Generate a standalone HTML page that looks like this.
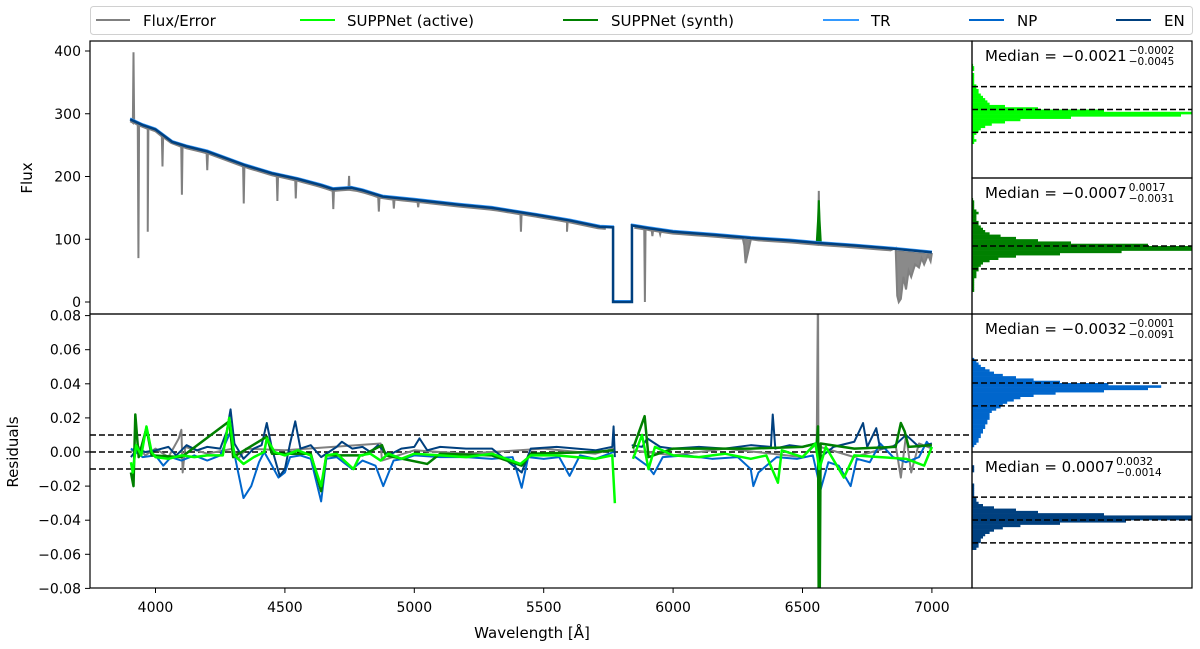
<!DOCTYPE html>
<html><head><meta charset="utf-8"><style>
html,body{margin:0;padding:0;background:#fff;}
svg{display:block;font-family:"DejaVu Sans","Liberation Sans",sans-serif;}
</style></head><body>
<svg id="chart" width="1200" height="649" viewBox="0 0 1200 649" xmlns="http://www.w3.org/2000/svg">
<defs>
<clipPath id="clipTop"><rect x="90" y="41" width="882" height="273"/></clipPath>
<clipPath id="clipBot"><rect x="90" y="314" width="882" height="274"/></clipPath>
<clipPath id="clipH1"><rect x="972" y="41" width="220" height="137"/></clipPath>
<clipPath id="clipH2"><rect x="972" y="178" width="220" height="136"/></clipPath>
<clipPath id="clipH3"><rect x="972" y="314" width="220" height="138"/></clipPath>
<clipPath id="clipH4"><rect x="972" y="452" width="220" height="136"/></clipPath>
</defs>
<g id="legend">
<rect x="90.5" y="6.5" width="1102" height="28" rx="3" fill="#fff" stroke="#d0d0d0" stroke-width="1"/>
<g><line x1="96" y1="20" x2="130" y2="20" stroke="#808080" stroke-width="2"/><text x="143" y="26" font-size="15">Flux/Error</text></g>
<g><line x1="300" y1="20" x2="335" y2="20" stroke="#00ff00" stroke-width="2"/><text x="347" y="26" font-size="15">SUPPNet (active)</text></g>
<g><line x1="563" y1="20" x2="598" y2="20" stroke="#008000" stroke-width="2"/><text x="611" y="26" font-size="15">SUPPNet (synth)</text></g>
<g><line x1="823" y1="20" x2="859" y2="20" stroke="#3399ff" stroke-width="2"/><text x="871" y="26" font-size="15">TR</text></g>
<g><line x1="969" y1="20" x2="1004" y2="20" stroke="#0066cc" stroke-width="2"/><text x="1017" y="26" font-size="15">NP</text></g>
<g><line x1="1116" y1="20" x2="1151" y2="20" stroke="#00407f" stroke-width="2"/><text x="1164" y="26" font-size="15">EN</text></g>
</g>
<g id="topPanel"></g>
<g id="botPanel"></g>
<g id="histPanel"></g>
<g id="frameLayer"></g>
<text x="32" y="178" font-size="15" text-anchor="middle" transform="rotate(-90 32 178)">Flux</text>
<text x="18" y="452" font-size="15" text-anchor="middle" transform="rotate(-90 18 452)">Residuals</text>
<text x="532" y="638" font-size="15" text-anchor="middle">Wavelength [Å]</text>
</svg>
<script>
// ---- data ----
const xTicks = [4000, 4500, 5000, 5500, 6000, 6500, 7000];
const fluxTicks = [0, 100, 200, 300, 400];
const resTicks = [0.08, 0.06, 0.04, 0.02, 0.00, -0.02, -0.04, -0.06, -0.08];
const resTickLabels = ["0.08","0.06","0.04","0.02","0.00","\u22120.02","\u22120.04","\u22120.06","\u22120.08"];
const enW = [3902,3950,4000,4065,4120,4200,4345,4450,4550,4641,4686,4720,4757,4800,4878,5000,5173,5300,5470,5600,5717,5768,5768,5841,5841,5900,6000,6161,6300,6450,6563,6700,6850,7000];
const enF = [291,282,275,255,248,240,218,205,196,186,180,181,182,178,168,163,155,150,139,130,120,119,0,0,122,118,112,107,102,98,94,90,85,79];
const lineW = [3915,3934,3970,4027,4102,4200,4341,4471,4542,4687,4748,4863,4921,5015,5412,5590,5891,5920,5950,6563];
const lineF = [398,70,112,216,171,210,157,161,165,148,201,144,149,151,112,112,0,105,108,177];
const tellW = [6268,6275,6280,6290,6300,6860,6866,6872,6880,6890,6900,6910,6920,6935,6950,6960,6970,6985,6995,7000];
const tellF = [101,90,62,80,100,86,10,0,5,40,20,50,40,60,55,70,60,75,65,78];
const synthSpikeW = [6555,6560,6563,6566,6571];
const synthSpikeF = [94,130,162,130,93];
// residuals (null = gap)
const rEnW = [3905,3930,3960,4000,4050,4080,4120,4160,4200,4250,4275,4290,4305,4340,4380,4410,4430,4450,4480,4500,4520,4540,4560,4600,4640,4700,4720,4760,4800,4830,4860,4900,4950,5000,5020,5050,5100,5200,5300,5415,5450,5550,5700,5765,5770,5775,null,5840,5880,5900,5950,6000,6100,6200,6300,6378,6385,6395,6450,6500,6550,6570,6620,6700,6734,6750,6785,6800,6850,6900,6950,7000];
const rEnR = [-0.003,0.002,0.000,0.001,0.003,-0.002,0.004,0.001,0.003,0.002,0.012,0.025,0.005,-0.004,0.002,0.004,0.017,0.002,-0.014,-0.010,0.005,0.018,0.002,0.004,-0.003,0.003,0.006,0.002,0.003,0.000,0.004,-0.002,0.002,0.003,0.008,0.001,0.003,0.002,0.002,-0.012,0.002,0.003,0.001,0.003,0.015,-0.003,null,0.004,0.003,0.008,0.003,0.002,0.003,0.002,0.004,0.003,0.022,0.002,0.004,0.003,0.005,-0.003,0.003,0.006,0.017,0.003,0.014,0.002,0.003,0.010,0.003,0.005];
const rNpW = [3905,3950,4000,4030,4060,4100,4150,4200,4250,4290,4310,4340,4370,4400,4420,4450,4475,4500,4520,4560,4600,4640,4660,4700,4760,4800,4850,4880,4920,4960,5000,5100,5200,5300,5380,5415,5440,5500,5560,5600,5640,5700,5770,null,5845,5900,5925,5960,6050,6150,6250,6300,6310,6330,6400,6480,6540,6570,6600,6640,6686,6710,6760,6800,6850,6900,6950,6980,7000];
const rNpR = [0.002,-0.003,-0.002,-0.008,-0.003,-0.005,-0.002,-0.005,-0.002,0.012,-0.005,-0.027,-0.020,-0.006,0.000,-0.008,-0.015,-0.012,-0.003,-0.002,-0.004,-0.029,-0.004,-0.003,-0.010,-0.005,-0.008,-0.020,-0.005,-0.004,-0.002,-0.003,-0.003,-0.004,-0.003,-0.021,-0.003,-0.004,-0.003,-0.014,-0.002,-0.004,0.000,null,-0.002,-0.008,-0.013,-0.003,-0.002,-0.004,-0.003,-0.010,-0.020,-0.012,-0.003,-0.004,-0.002,-0.022,-0.006,-0.008,-0.020,-0.004,-0.006,0.005,-0.003,-0.006,-0.003,0.006,0.002];
const rActW = [3905,3912,3925,3945,3965,3985,4000,4050,4100,4150,4200,4260,4285,4305,4340,4380,4420,4430,4460,4500,4550,4600,4640,4660,4700,4765,4790,4830,4870,4900,4950,5000,5100,5200,5300,5410,5450,5550,5700,5765,5775,null,5845,5880,5905,5930,6000,6100,6200,6300,6360,6405,6420,6500,6550,6565,6590,6660,6700,6800,6900,6970,7000];
const rActR = [-0.006,-0.012,0.004,-0.002,0.015,0.000,-0.003,-0.004,-0.002,-0.003,-0.002,-0.002,0.020,-0.002,-0.007,-0.003,0.000,0.008,0.000,-0.002,0.001,-0.002,-0.020,-0.002,-0.001,-0.010,-0.002,-0.001,-0.005,-0.001,-0.004,-0.001,-0.002,-0.003,-0.001,-0.007,-0.002,-0.002,-0.004,-0.002,-0.030,null,-0.004,0.010,-0.010,0.003,-0.002,-0.003,-0.001,-0.004,-0.002,-0.018,0.001,-0.003,0.005,-0.010,0.003,-0.015,-0.002,-0.003,-0.004,-0.008,0.003];
const rSynW = [3905,3915,3922,3935,3965,3985,4100,4285,4300,4430,4450,4600,4640,4660,4800,4875,4890,5050,5100,5300,5415,5450,5700,5770,null,5845,5890,5905,6000,6300,6500,6555,6560,6563,6566,6570,6700,6860,6880,6895,6910,7000];
const rSynR = [-0.012,-0.020,0.022,-0.003,0.014,-0.002,-0.003,0.018,-0.003,0.009,-0.001,-0.001,-0.023,-0.002,-0.002,0.004,-0.002,-0.007,-0.001,-0.002,-0.008,-0.001,0.000,0.001,null,0.002,0.021,-0.003,0.002,0.002,0.003,0.005,0.015,-0.100,-0.100,0.005,0.002,0.003,0.017,0.012,0.003,0.004];
const rGrayW = [3905,3930,3960,4000,4050,4090,4100,4105,4115,4200,4300,4320,4350,4500,4870,4875,5000,5200,5500,5700,5770,null,5845,6000,6200,6500,6555,6560,6563,6568,6700,6860,6880,6900,6920,6950,7000];
const rGrayR = [0.000,0.004,-0.002,0.002,-0.003,0.008,0.013,-0.012,0.003,-0.001,0.002,-0.004,0.002,0.001,0.005,-0.005,0.001,-0.001,0.002,-0.001,0.002,null,0.001,-0.002,0.002,-0.003,0.005,0.100,-0.100,0.003,-0.003,0.004,-0.015,0.010,-0.012,0.005,0.002];
// histograms: bin centres -0.0295..0.0295 step 0.001
const histBinStart = -0.03, histBinStep = 0.001;
const hist1 = [0,0,0,0,0,0,0,0,0,0,0,0,0,0,0,1,2,1,1,2,3,4,6,9,15,22,45,95,120,60,30,15,8,7,6,5,4,3,3,2,2,1,1,1,1,1,0,1,1,0.5,0,0,0,0,0,0,0,0,0,0];
const hist2 = [0,0,0,0,0,0,0,0,0,0,1,1,1,1,1,1,2,2,2,3,3,4,5,8,12,20,40,68,110,120,80,45,30,20,13,8,6,5,4,3,3,2,2,2,3,2,1,1,1,1,0.5,0,0,0,0,0,0,0,0,0];
const hist3 = [0,0,1,2,3,3,4,4,5,5,6,6,7,7,8,8,8,9,11,13,14,16,19,22,28,38,60,80,86,62,40,28,20,14,10,8,6,4,3,2,1,0,0,0,0,0,0,0,0,0,0,0,0,0,0,0,0,0,0,0];
const hist4 = [0,0,0,0,0,0,0,0,0,0,0,0,0,0,0,0,0,2,3,3,4,4,5,6,8,10,14,22,40,70,130,110,60,30,20,10,5,3,2,2,1,1,1,1,1,1,0,0,0,0,0,1,1,1,0,0,0,0,0,0];
const medianMain = ["\u22120.0021","\u22120.0007","\u22120.0032","0.0007"];
const medianUp = ["\u22120.0002","0.0017","\u22120.0001","0.0032"];
const medianLo = ["\u22120.0045","\u22120.0031","\u22120.0091","\u22120.0014"];

// ---- scales ----
const NS = "http://www.w3.org/2000/svg";
const xS = w => 155.5 + (w - 4000) * 0.2588;
const yF = f => 302 - f * 0.6275;
const yR = r => 452 - r * 1705;
function mk(tag, attrs, parent) { const e = document.createElementNS(NS, tag); for (const k in attrs) e.setAttribute(k, attrs[k]); parent.appendChild(e); return e; }
function pathFrom(W, V, xf, yf) { let d = "", pen = false; for (let i = 0; i < W.length; i++) { if (W[i] === null || V[i] === null) { pen = false; continue; } d += (pen ? "L" : "M") + xf(W[i]).toFixed(2) + "," + yf(V[i]).toFixed(2); pen = true; } return d; }
function interp(W, F, w) { for (let i = 0; i < W.length - 1; i++) if (w >= W[i] && w <= W[i+1]) { if (W[i+1] === W[i]) return F[i+1]; return F[i] + (F[i+1]-F[i])*(w-W[i])/(W[i+1]-W[i]); } return F[F.length-1]; }

const topPanel = document.getElementById('topPanel'), botPanel = document.getElementById('botPanel'), histPanel = document.getElementById('histPanel'), frameLayer = document.getElementById('frameLayer');
const gTop = mk('g', {'clip-path': 'url(#clipTop)'}, topPanel);
// filled telluric / broad absorption regions
[[0, 5], [5, tellW.length]].forEach((rg, j) => {
  const ws = tellW.slice(rg[0], rg[1]), fs = tellF.slice(rg[0], rg[1]);
  let d = pathFrom(ws, fs, xS, yF);
  for (let i = ws.length - 1; i >= 0; i--) d += "L" + xS(ws[i]).toFixed(2) + "," + yF(interp(enW, enF, ws[i]) - 3).toFixed(2);
  d += "Z";
  const p = mk('path', {d: d, fill: '#8a8a8a', stroke: '#808080', 'stroke-width': 1}, gTop);
  
  
});
const events = [];
for (let i = 0; i < lineW.length; i++) events.push([lineW[i], lineF[i]]);
const allW = [3902];
for (let w = 3910; w <= 5760; w += 30) allW.push(w);
for (let w = 5850; w <= 6850; w += 30) allW.push(w);
const pts = [];
allW.forEach(w => pts.push([w, interp(enW, enF, w) - 3]));
events.forEach(e => { const c = interp(enW, enF, e[0]) - 3; pts.push([e[0]-2.5, c]); pts.push([e[0], e[1]]); pts.push([e[0]+2.5, c]); });
for (let i = 0; i < tellW.length; i++) pts.push([tellW[i], tellF[i]]);
pts.sort((a, b) => a[0] - b[0]);
const grayA = pts.filter(p => p[0] <= 5768), grayB = pts.filter(p => p[0] >= 5841);
[grayA, grayB].forEach(seg => {
  const p = mk('path', {d: pathFrom(seg.map(q=>q[0]), seg.map(q=>q[1]), xS, yF), fill: 'none', stroke: '#808080', 'stroke-width': 2}, gTop);
  
  
});
const sp = mk('path', {d: pathFrom(synthSpikeW, synthSpikeF, xS, yF), fill: '#008000', stroke: '#008000', 'stroke-width': 2}, gTop);


const trl = mk('path', {d: pathFrom(enW, enF.map(f => f + 1.5), xS, yF), fill: 'none', stroke: '#3399ff', 'stroke-width': 2}, gTop);


const enl = mk('path', {d: pathFrom(enW, enF, xS, yF), fill: 'none', stroke: '#00407f', 'stroke-width': 2.5}, gTop);



// residuals
const gBot = mk('g', {'clip-path': 'url(#clipBot)'}, botPanel);
[[0.01,'upper'],[0,'zero'],[-0.01,'lower']].forEach(r => {
  const l = mk('line', {x1: 90, x2: 972, y1: yR(r[0]), y2: yR(r[0]), stroke: '#000', 'stroke-width': 1.5, 'stroke-dasharray': '6,3'}, gBot);
  
  
});
const seriesList = [[rGrayW, rGrayR, '#808080', 'gray-residual', 2], [rNpW, rNpR, '#0066cc', 'np-residual', 2], [rEnW, rEnR, '#00407f', 'en-residual', 2], [rSynW, rSynR, '#008000', 'synth-residual', 2.5], [rActW, rActR, '#00ff00', 'active-residual', 2.5]];
seriesList.forEach(s => {
  const p = mk('path', {d: pathFrom(s[0], s[1], xS, yR), fill: 'none', stroke: s[2], 'stroke-width': s[4], 'stroke-linejoin': 'round'}, gBot);
  
  
});

// histograms
const panelDefs = [[41, 178, hist1, '#00ff00', 'clipH1'], [178, 314, hist2, '#008000', 'clipH2'], [314, 452, hist3, '#0066cc', 'clipH3'], [452, 588, hist4, '#00407f', 'clipH4']];
panelDefs.forEach((pn, k) => {
  const cy = (pn[0] + pn[1]) / 2, sc = 2283;
  const g = mk('g', {'clip-path': 'url(#' + pn[4] + ')'}, histPanel);
  
  
  pn[2].forEach((c, i) => {
    if (!c) return;
    const v0 = histBinStart + i * histBinStep, v1 = v0 + histBinStep;
    const r = mk('rect', {x: 972, y: (cy - v1 * sc).toFixed(2), width: (c * 2.2).toFixed(2), height: (histBinStep * sc + 0.3).toFixed(2), fill: pn[3]}, g);
    
    
  });
  [-0.01, 0, 0.01].forEach(v => {
    const l = mk('line', {x1: 972, x2: 1192, y1: cy - v * sc, y2: cy - v * sc, stroke: '#000', 'stroke-width': 1.5, 'stroke-dasharray': '6,3'}, histPanel);
    
    
  });
  const t = mk('text', {x: 985, y: pn[0] + 20, 'font-size': 15}, histPanel);
  
  
  t.textContent = 'Median = ' + medianMain[k];
  let tw = 0;
  try { tw = t.getComputedTextLength(); } catch (e) { tw = 0; }
  if (!tw) tw = t.textContent.length * 8.6;
  const su = mk('text', {x: 985 + tw + 2, y: pn[0] + 13, 'font-size': 10.5}, histPanel);
  
  
  su.textContent = medianUp[k];
  const sl = mk('text', {x: 985 + tw + 2, y: pn[0] + 24, 'font-size': 10.5}, histPanel);
  
  
  sl.textContent = medianLo[k];
});

// frames and ticks
[[90,41,882,273],[90,314,882,274],[972,41,220,137],[972,178,220,136],[972,314,220,138],[972,452,220,136]].forEach(b => {
  const r = mk('rect', {x: b[0], y: b[1], width: b[2], height: b[3], fill: 'none', stroke: '#000', 'stroke-width': 1.2}, frameLayer);
  
  
});
fluxTicks.forEach(f => {
  const l = mk('line', {x1: 85, x2: 90, y1: yF(f), y2: yF(f), stroke: '#000', 'stroke-width': 1}, frameLayer);
  
  
  const t = mk('text', {x: 81, y: yF(f) + 5, 'font-size': 14, 'text-anchor': 'end'}, frameLayer);
  
  
  t.textContent = String(f);
});
resTicks.forEach((r, i) => {
  const l = mk('line', {x1: 85, x2: 90, y1: yR(r), y2: yR(r), stroke: '#000', 'stroke-width': 1}, frameLayer);
  
  
  const t = mk('text', {x: 81, y: yR(r) + 5, 'font-size': 14, 'text-anchor': 'end'}, frameLayer);
  
  
  t.textContent = resTickLabels[i];
});
xTicks.forEach(w => {
  const l = mk('line', {x1: xS(w), x2: xS(w), y1: 588, y2: 593, stroke: '#000', 'stroke-width': 1}, frameLayer);
  
  
  const t = mk('text', {x: xS(w), y: 612, 'font-size': 14, 'text-anchor': 'middle'}, frameLayer);
  
  
  t.textContent = String(w);
});
</script>
</body></html>
